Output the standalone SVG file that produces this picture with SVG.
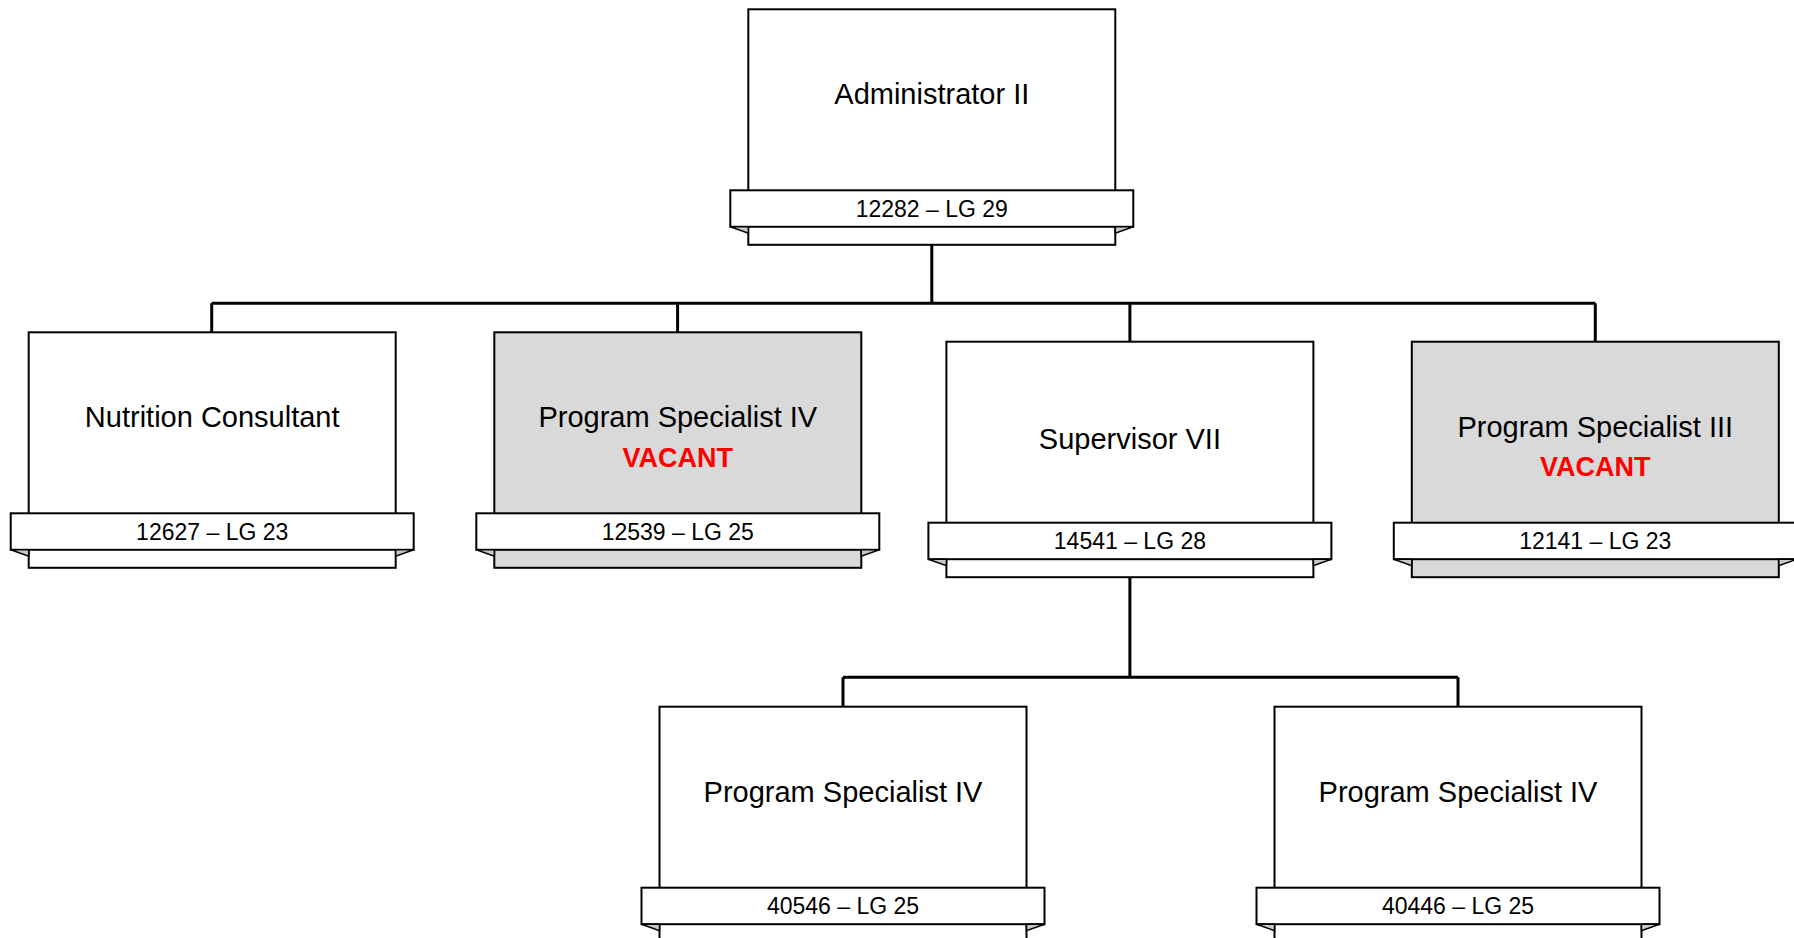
<svg xmlns="http://www.w3.org/2000/svg" width="1794" height="938" viewBox="0 0 1794 938">
<style>
.bg{fill:#ffffff}
.node{fill:#ffffff}
.node.vac{fill:#d9d9d9}
.box{stroke:#000000;stroke-width:2}
.ban{fill:#ffffff;stroke:#000000;stroke-width:2}
.fold{fill:#c8c8c8;stroke:#000000;stroke-width:1.5;stroke-linejoin:miter}
.title{font-family:"Liberation Sans",Arial,sans-serif;font-size:29px;fill:#000000;text-anchor:middle}
.vtxt{font-family:"Liberation Sans",Arial,sans-serif;font-size:27px;font-weight:bold;fill:#ff0000;text-anchor:middle}
.code{font-family:"Liberation Sans",Arial,sans-serif;font-size:23px;fill:#000000;text-anchor:middle}
.conn{fill:none;stroke:#000000;stroke-width:3}
</style>
<defs>
<g id="frame">
<rect class="box" x="0" y="0" width="367" height="235.5"/>
<rect class="ban" x="-18" y="181" width="403" height="36.5"/>
<polygon class="fold" points="-18,217.5 0,224 0,217.5"/>
<polygon class="fold" points="385,217.5 367,224 367,217.5"/>
</g>
</defs>
<rect class="bg" x="0" y="0" width="1794" height="938"/>
<g id="connectors">
<path class="conn" d="M931.8,244.8 V303.3 M211.7,303.3 H1595.3 M211.7,303.3 V332.3 M677.6,303.3 V332.3 M1129.9,303.3 V341.7 M1595.3,303.3 V341.7"/>
<path class="conn" d="M1129.9,577.2 V677.3 M843,677.3 H1458 M843,677.3 V706.7 M1458,677.3 V706.7"/>
</g>
<g id="node-admin" class="node" transform="translate(748.3,9.3)">
<use href="#frame"/>
<text class="title" x="183.5" y="95">Administrator II</text>
<text class="code" x="183.5" y="207.4">12282 – LG 29</text>
</g>
<g id="node-nutrition" class="node" transform="translate(28.7,332.3)">
<use href="#frame"/>
<text class="title" x="183.5" y="95">Nutrition Consultant</text>
<text class="code" x="183.5" y="207.4">12627 – LG 23</text>
</g>
<g id="node-ps4-vacant" class="node vac" transform="translate(494.3,332.3)">
<use href="#frame"/>
<text class="title" x="183.5" y="95">Program Specialist IV</text>
<text class="vtxt" x="183.5" y="134.5">VACANT</text>
<text class="code" x="183.5" y="207.4">12539 – LG 25</text>
</g>
<g id="node-supervisor" class="node" transform="translate(946.4,341.7)">
<use href="#frame"/>
<text class="title" x="183.5" y="107.5">Supervisor VII</text>
<text class="code" x="183.5" y="207.4">14541 – LG 28</text>
</g>
<g id="node-ps3-vacant" class="node vac" transform="translate(1411.8,341.7)">
<use href="#frame"/>
<text class="title" x="183.5" y="95">Program Specialist III</text>
<text class="vtxt" x="183.5" y="134.5">VACANT</text>
<text class="code" x="183.5" y="207.4">12141 – LG 23</text>
</g>
<g id="node-ps4-a" class="node" transform="translate(659.5,706.7)">
<use href="#frame"/>
<text class="title" x="183.5" y="95">Program Specialist IV</text>
<text class="code" x="183.5" y="207.4">40546 – LG 25</text>
</g>
<g id="node-ps4-b" class="node" transform="translate(1274.5,706.7)">
<use href="#frame"/>
<text class="title" x="183.5" y="95">Program Specialist IV</text>
<text class="code" x="183.5" y="207.4">40446 – LG 25</text>
</g>
</svg>
